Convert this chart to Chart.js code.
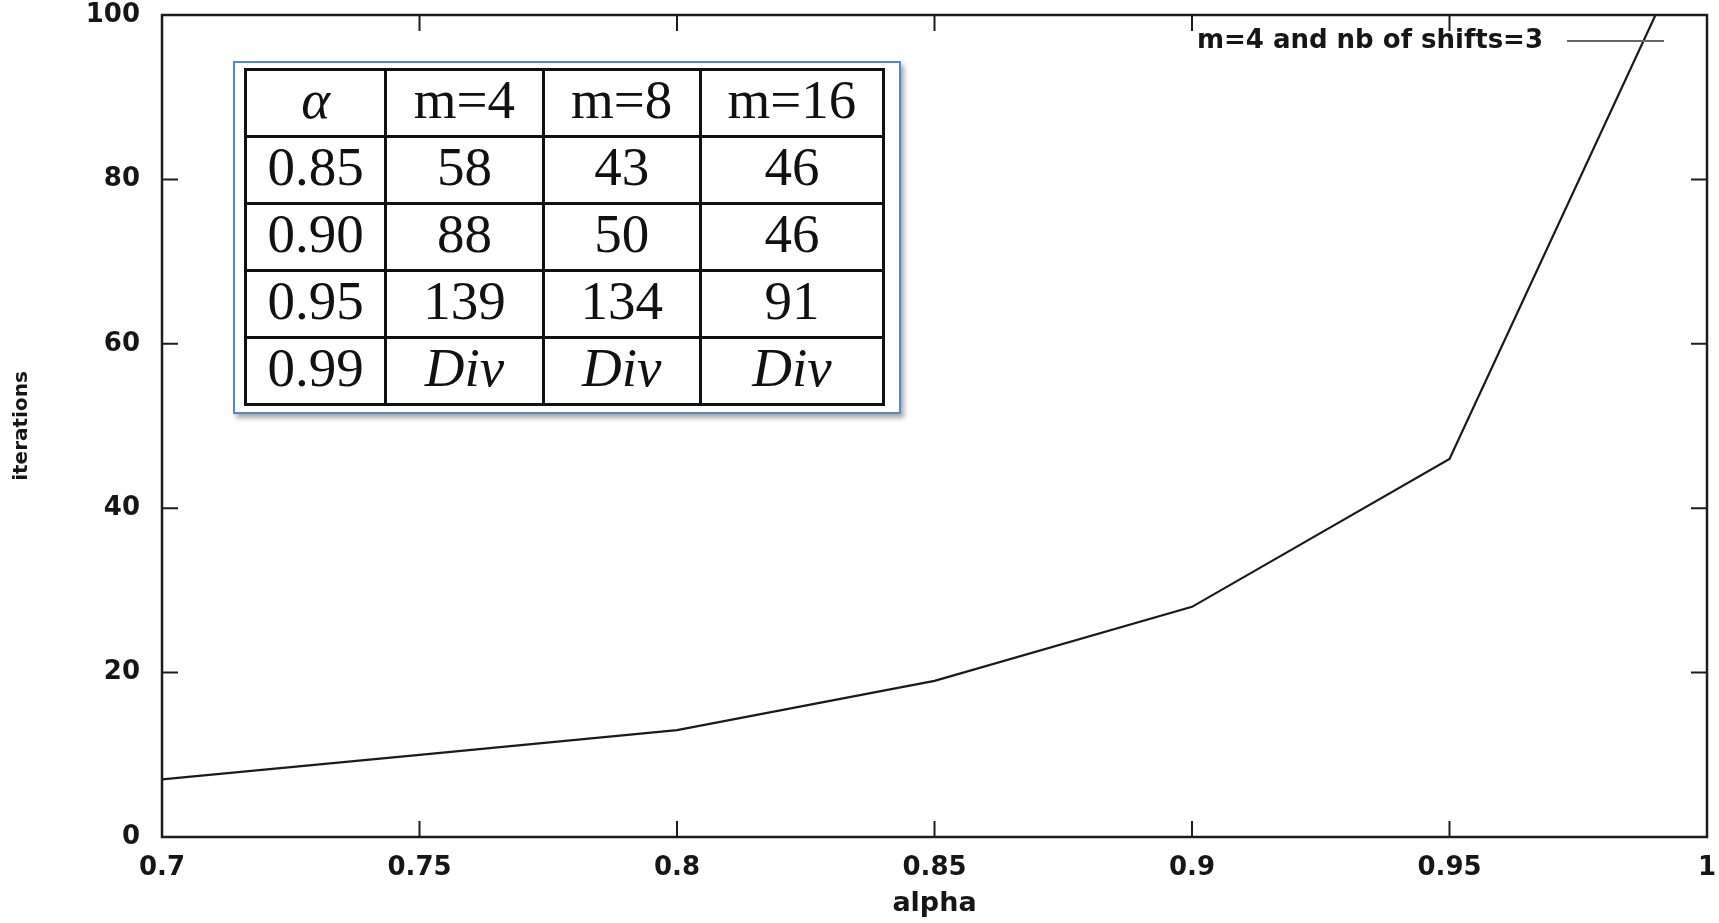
<!DOCTYPE html>
<html lang="en">
<head>
  <meta charset="UTF-8" />
  <title>iterations vs alpha</title>
  <script src="https://cdn.jsdelivr.net/npm/chart.js"></script>
  <style>
    html, body { margin: 0; padding: 0; background: #fff; }
    #wrap { position: relative; width: 1719px; height: 923px; }
    #inset {
      position: absolute;
      left: 233px; top: 61px;
      width: 668px; height: 353px;
      box-sizing: border-box;
      border: 2px solid #5b86c4;
      background: #fff;
      box-shadow: 3px 4px 5px rgba(0, 0, 0, 0.35);
    }
    #tabla {
      position: absolute;
      left: 9px; top: 5px;
      width: 641px; height: 338px;
      border-collapse: collapse;
      font-family: "Liberation Serif", "DejaVu Serif", serif;
      font-size: 55px;
      color: #111;
    }
    #tabla td {
      border: 3px solid #111;
      text-align: center;
      vertical-align: middle;
      padding: 0 0 8px 0;
      line-height: 1;
      height: 50px;
    }
  </style>
</head>
<body>
  <div id="wrap">
    <canvas id="grafico"></canvas>
    <div id="inset"><table id="tabla"></table></div>
  </div>

  <script>
    // datos de la curva
    const alphaValues = [0.7, 0.75, 0.8, 0.85, 0.9, 0.95, 0.99];
    const iterations = [7, 10, 13, 19, 28, 46, 100];
    const seriesLabel = "m=4 and nb of shifts=3";

    // ejes
    const xTicks = [0.7, 0.75, 0.8, 0.85, 0.9, 0.95, 1];
    const xTickLabels = ["0.7", "0.75", "0.8", "0.85", "0.9", "0.95", "1"];
    const yTicks = [0, 20, 40, 60, 80, 100];
    const yTickLabels = ["0", "20", "40", "60", "80", "100"];

    // tabla insertada
    const tableHeader = ["α", "m=4", "m=8", "m=16"];
    const tableAlpha = ["0.85", "0.90", "0.95", "0.99"];
    const tableM4 = ["58", "88", "139", "Div"];
    const tableM8 = ["43", "50", "134", "Div"];
    const tableM16 = ["46", "46", "91", "Div"];
    const colWidths = [141, 158, 158, 184];

    const italicCells = ["α", "Div"];
    const cell = txt => italicCells.includes(txt) ? `<td><i>${txt}</i></td>` : `<td>${txt}</td>`;

    let html = "<colgroup>" + colWidths.map(w => `<col style="width:${w}px">`).join("") + "</colgroup>";
    html += "<tr>" + tableHeader.map(cell).join("") + "</tr>";
    tableAlpha.forEach((a, i) => {
      html += "<tr>" + [a, tableM4[i], tableM8[i], tableM16[i]].map(cell).join("") + "</tr>";
    });
    document.getElementById("tabla").innerHTML = html;

    Chart.defaults.font.family = "'DejaVu Sans', sans-serif";
    Chart.defaults.font.weight = "bold";
    Chart.defaults.color = "#161616";

    const tickLen = 16;

    // marco completo con marcas hacia dentro (estilo gnuplot)
    const framePlugin = {
      id: "frame",
      afterDatasetsDraw(chart) {
        const { ctx, chartArea: a, scales: { x, y } } = chart;
        ctx.save();
        ctx.strokeStyle = "#1c1c1c";
        ctx.lineWidth = 2;
        ctx.beginPath();
        x.ticks.forEach(t => {
          const px = x.getPixelForValue(t.value);
          ctx.moveTo(px, a.bottom); ctx.lineTo(px, a.bottom - tickLen);
          ctx.moveTo(px, a.top); ctx.lineTo(px, a.top + tickLen);
        });
        y.ticks.forEach(t => {
          const py = y.getPixelForValue(t.value);
          ctx.moveTo(a.left, py); ctx.lineTo(a.left + tickLen, py);
          ctx.moveTo(a.right, py); ctx.lineTo(a.right - tickLen, py);
        });
        ctx.stroke();
        ctx.lineWidth = 2.5;
        ctx.strokeRect(a.left, a.top, a.right - a.left, a.bottom - a.top);
        ctx.restore();
      }
    };

    // leyenda arriba a la derecha: texto y luego la muestra de línea
    const legendPlugin = {
      id: "keyRight",
      afterDraw(chart) {
        const { ctx, chartArea: a } = chart;
        const ds = chart.data.datasets[0];
        const yy = a.top + 26;
        const lineEnd = a.right - 43;
        const lineStart = lineEnd - 97;
        ctx.save();
        ctx.font = "bold 26px 'DejaVu Sans'";
        ctx.fillStyle = "#161616";
        ctx.textAlign = "right";
        ctx.textBaseline = "middle";
        ctx.fillText(ds.label, lineStart - 24, yy);
        ctx.strokeStyle = "#666";
        ctx.lineWidth = 2;
        ctx.beginPath();
        ctx.moveTo(lineStart, yy);
        ctx.lineTo(lineEnd, yy);
        ctx.stroke();
        ctx.restore();
      }
    };

    // marcas de Chart.js invisibles: sólo sirven para separar las etiquetas del eje
    const hiddenTicks = len => ({
      display: true,
      drawOnChartArea: false,
      drawTicks: true,
      tickLength: len,
      color: "rgba(0,0,0,0)"
    });

    new Chart(document.getElementById("grafico"), {
      type: "line",
      data: {
        datasets: [{
          label: seriesLabel,
          data: alphaValues.map((a, i) => ({ x: a, y: iterations[i] })),
          borderColor: "#1a1a1a",
          borderWidth: 2.2,
          pointRadius: 0,
          tension: 0,
          fill: false
        }]
      },
      options: {
        responsive: true,
        maintainAspectRatio: false,
        animation: false,
        layout: { padding: { top: 15, right: 12, left: 0, bottom: 0 } },
        plugins: {
          legend: { display: false },
          tooltip: { enabled: false }
        },
        scales: {
          x: {
            type: "linear",
            min: 0.7,
            max: 1,
            afterBuildTicks: s => { s.ticks = xTicks.map(v => ({ value: v })); },
            afterFit: s => { s.height = 86; },
            grid: hiddenTicks(16),
            border: { display: false },
            ticks: {
              padding: 0,
              maxRotation: 0,
              font: { size: 26 },
              callback: (v, i) => xTickLabels[i]
            },
            title: {
              display: true,
              text: "alpha",
              font: { size: 27 },
              padding: { top: 0, bottom: 3 }
            }
          },
          y: {
            min: 0,
            max: 100,
            afterBuildTicks: s => { s.ticks = yTicks.map(v => ({ value: v })); },
            afterFit: s => { s.width = 162; },
            grid: hiddenTicks(22),
            border: { display: false },
            ticks: {
              padding: 0,
              font: { size: 26, lineHeight: 1 },
              callback: (v, i) => yTickLabels[i]
            },
            title: {
              display: true,
              text: "iterations",
              font: { size: 20 },
              padding: { top: 10, bottom: 0 }
            }
          }
        }
      },
      plugins: [framePlugin, legendPlugin]
    });
  </script>
</body>
</html>
